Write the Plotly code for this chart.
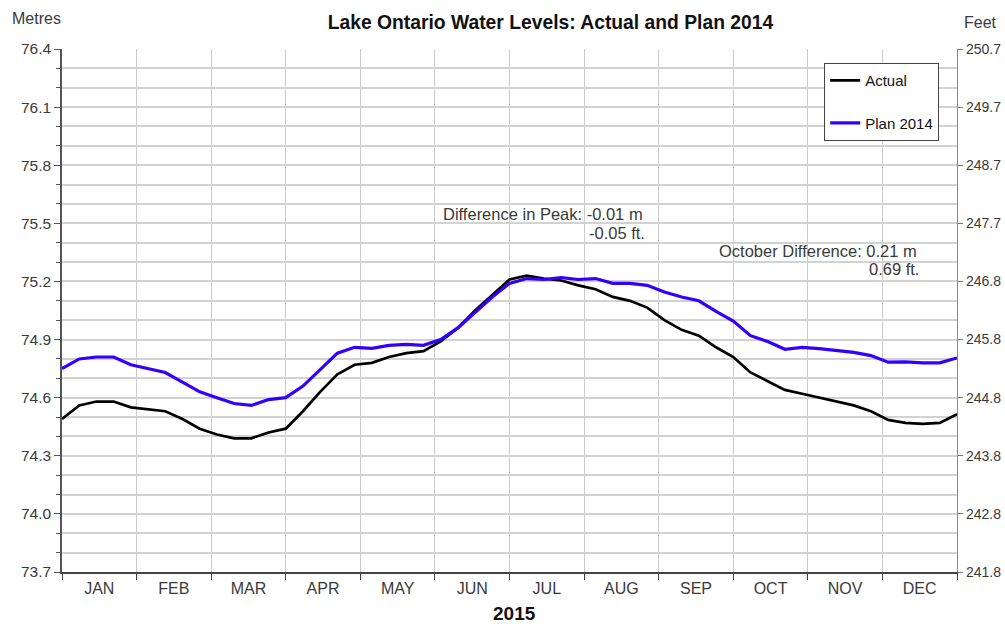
import plotly.graph_objects as go

# ---------------- data ----------------
MONTHS = ["JAN", "FEB", "MAR", "APR", "MAY", "JUN", "JUL", "AUG", "SEP", "OCT", "NOV", "DEC"]
N_WEEKS = 52  # weekly points across the year (53 values incl. year end)

actual = [74.49, 74.56, 74.58, 74.58, 74.55, 74.54, 74.53, 74.49, 74.44, 74.41,
          74.39, 74.39, 74.42, 74.44, 74.53, 74.63, 74.72, 74.77, 74.78, 74.81,
          74.83, 74.84, 74.89, 74.96, 75.05, 75.13, 75.21, 75.23, 75.215, 75.205,
          75.18, 75.16, 75.12, 75.10, 75.065, 75.00, 74.95, 74.92, 74.86, 74.81,
          74.73, 74.685, 74.64, 74.62, 74.60, 74.58, 74.56, 74.53, 74.485, 74.47,
          74.465, 74.47, 74.515]

plan2014 = [74.75, 74.80, 74.81, 74.81, 74.77, 74.75, 74.73, 74.68, 74.63, 74.60,
            74.57, 74.56, 74.59, 74.60, 74.66, 74.745, 74.83, 74.86, 74.855, 74.87,
            74.875, 74.87, 74.90, 74.96, 75.04, 75.12, 75.19, 75.215, 75.21, 75.22,
            75.21, 75.215, 75.19, 75.19, 75.18, 75.145, 75.12, 75.10, 75.045, 74.995,
            74.92, 74.89, 74.85, 74.86, 74.853, 74.845, 74.834, 74.817, 74.783, 74.785,
            74.78, 74.78, 74.805]

LEFT_TICKS = [73.7, 74.0, 74.3, 74.6, 74.9, 75.2, 75.5, 75.8, 76.1, 76.4]
RIGHT_TICK_LABELS = ["241.8", "242.8", "243.8", "244.8", "245.8",
                     "246.8", "247.7", "248.7", "249.7", "250.7"]

peak_note = ["Difference in Peak: -0.01 m", "-0.05 ft."]
oct_note = ["October Difference: 0.21 m", "0.69 ft."]

# x in month units (0 = start of Jan, 12 = end of Dec)
x = [i * 12 / N_WEEKS for i in range(len(actual))]

FONT = "Liberation Sans, Arial, sans-serif"
TXT = "#3a3a3a"

fig = go.Figure()
fig.add_trace(go.Scatter(x=x, y=actual, mode="lines", name="Actual",
                         line=dict(color="#000000", width=2.7), legendgroup="a"))
fig.add_trace(go.Scatter(x=x, y=plan2014, mode="lines", name="Plan 2014",
                         line=dict(color="#3300ff", width=3.2), legendgroup="b"))
# invisible trace to carry the right-hand (feet) axis
fig.add_trace(go.Scatter(x=x, y=actual, mode="lines", yaxis="y2", showlegend=False,
                         hoverinfo="skip", line=dict(width=0), opacity=0))

fig.update_layout(
    width=1005, height=624, autosize=False,
    margin=dict(l=62, r=48, t=49, b=52, autoexpand=False),
    paper_bgcolor="white", plot_bgcolor="white",
    font=dict(family=FONT, size=15, color=TXT),
    title=dict(text="<b>Lake Ontario Water Levels: Actual and Plan 2014</b>",
               x=548.5 / 1005, xanchor="center", xref="paper",
               y=1 - 22 / 624, yanchor="middle", yref="container",
               font=dict(family=FONT, size=19.3, color="#111111")),
    xaxis=dict(
        range=[0, 12], tickmode="array", automargin=False,
        tickvals=[i + 0.5 for i in range(12)], ticktext=MONTHS,
        ticks="", showgrid=False, zeroline=False,
        tickfont=dict(size=16, color=TXT), ticklabelstandoff=1,
        showline=True, linecolor="#444444", linewidth=1.5,
        minor=dict(tick0=0, dtick=1, showgrid=True, gridcolor="#cccccc", gridwidth=1.4,
                   ticks="outside", ticklen=6, tickcolor="#444444", tickwidth=1.3),
        fixedrange=True,
    ),
    yaxis=dict(
        range=[73.7, 76.4], tickmode="array", tickvals=LEFT_TICKS, automargin=False,
        ticktext=[f"{v:.1f}" for v in LEFT_TICKS],
        ticks="outside", ticklen=6, tickcolor="#555555", tickwidth=1.3,
        showgrid=True, gridcolor="#d2d2d2", gridwidth=1.5, zeroline=False,
        showline=True, linecolor="#555555", linewidth=1.6,
        tickfont=dict(size=15.5, color=TXT),
        minor=dict(tick0=73.7, dtick=0.1, showgrid=True, gridcolor="#d2d2d2", gridwidth=1.5,
                   ticks="outside", ticklen=4, tickcolor="#555555", tickwidth=1.2),
        fixedrange=True,
    ),
    yaxis2=dict(
        range=[73.7, 76.4], overlaying="y", side="right", tickmode="array", automargin=False,
        tickvals=LEFT_TICKS, ticktext=RIGHT_TICK_LABELS,
        ticks="outside", ticklen=5, tickcolor="#777777", tickwidth=1.2,
        showgrid=False, zeroline=False,
        showline=True, linecolor="#8a8a8a", linewidth=1.4,
        tickfont=dict(size=14, color=TXT),
        fixedrange=True,
    ),
    legend=dict(
        x=(824 - 62) / 895, y=(572 - 63) / 523, xanchor="left", yanchor="top",
        bgcolor="white", bordercolor="#444444", borderwidth=1.2,
        font=dict(size=15, color="#111111"), tracegroupgap=20,
    ),
    showlegend=True,
)

# corner axis captions and year label
fig.add_annotation(text="Metres", xref="paper", yref="paper", x=-52 / 895, y=(572 - 18) / 523,
                   xanchor="left", yanchor="middle", showarrow=False,
                   font=dict(size=16, color=TXT))
fig.add_annotation(text="Feet", xref="paper", yref="paper", x=(962 - 62) / 895, y=(572 - 22) / 523,
                   xanchor="left", yanchor="middle", showarrow=False,
                   font=dict(size=16, color=TXT))
fig.add_annotation(text="<b>2015</b>", xref="paper", yref="paper", x=(514 - 62) / 895,
                   y=(572 - 613) / 523, xanchor="center", yanchor="middle", showarrow=False,
                   font=dict(size=19, color="#111111"))

# notes
fig.add_annotation(text=peak_note[0], x=7.817, y=75.547, xanchor="right", yanchor="middle",
                   showarrow=False, font=dict(size=16.5, color=TXT))
fig.add_annotation(text=peak_note[1], x=7.84, y=75.448, xanchor="right", yanchor="middle",
                   showarrow=False, font=dict(size=16.5, color=TXT))
fig.add_annotation(text=oct_note[0], x=11.495, y=75.357, xanchor="right", yanchor="middle",
                   showarrow=False, font=dict(size=16.5, color=TXT))
fig.add_annotation(text=oct_note[1], x=11.513, y=75.266, xanchor="right", yanchor="middle",
                   showarrow=False, font=dict(size=16.5, color=TXT))

fig.write_html("out.html", config={"displayModeBar": False, "responsive": False},
               post_script="document.body.style.margin='0';document.body.style.overflow='hidden';")
